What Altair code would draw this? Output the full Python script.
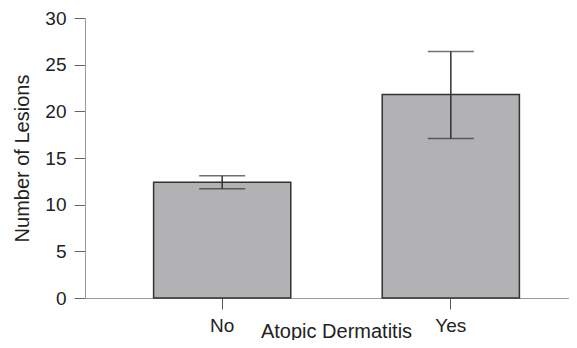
import altair as alt
import pandas as pd

categories = ["No", "Yes"]
means = [12.4, 21.8]
lows = [11.7, 17.1]
highs = [13.1, 26.4]

df = pd.DataFrame({"cat": categories, "mean": means, "low": lows, "high": highs})

FONT = "Liberation Sans"

x = alt.X(
    "cat:N",
    sort=categories,
    scale=alt.Scale(paddingInner=0.4, paddingOuter=0.3, range=[0, 503]),
    axis=alt.Axis(
        title="Atopic Dermatitis",
        labelAngle=0,
        labelFontSize=19,
        labelColor="#222222",
        labelFont=FONT,
        labelPadding=7,
        tickSize=11,
        tickColor="#555555",
        domainColor="#9a9a9a",
        titleFontSize=20,
        titleFont=FONT,
        titleFontWeight="normal",
        titleColor="#222222",
        titleBaseline="alphabetic",
        titleY=39,
        titleX=251,
    ),
)

base = alt.Chart(df)

bars = base.mark_bar(fill="#b2b2b5", stroke="#333333", strokeWidth=1.5).encode(
    x=x,
    y=alt.Y(
        "mean:Q",
        scale=alt.Scale(domain=[0, 30], nice=False),
        axis=alt.Axis(
            title="Number of Lesions",
            values=[0, 5, 10, 15, 20, 25, 30],
            grid=False,
            labelFontSize=19,
            labelColor="#222222",
            labelFont=FONT,
            labelPadding=8,
            tickSize=11,
            tickColor="#666666",
            domainColor="#9a9a9a",
            titleFontSize=20,
            titleFont=FONT,
            titleFontWeight="normal",
            titleColor="#222222",
            titleBaseline="alphabetic",
            titleX=-57,
        ),
    ),
)

rule = base.mark_rule(color="#333333", strokeWidth=1.5).encode(
    x=alt.X("cat:N", sort=categories),
    y="low:Q",
    y2="high:Q",
)

cap_hi = base.mark_tick(color="#333333", thickness=1.5, size=46, orient="horizontal").encode(
    x=alt.X("cat:N", sort=categories),
    y="high:Q",
)
cap_lo = base.mark_tick(color="#333333", thickness=1.5, size=46, orient="horizontal").encode(
    x=alt.X("cat:N", sort=categories),
    y="low:Q",
)

chart = (
    alt.layer(bars, rule, cap_hi, cap_lo)
    .properties(
        width=484,
        height=280,
        autosize=alt.AutoSizeParams(type="none"),
        padding={"left": 77, "top": 10, "right": 0, "bottom": 42},
    )
    .configure_view(stroke=None)
)

chart.save("out.html", embed_options={"renderer": "svg", "actions": False})
